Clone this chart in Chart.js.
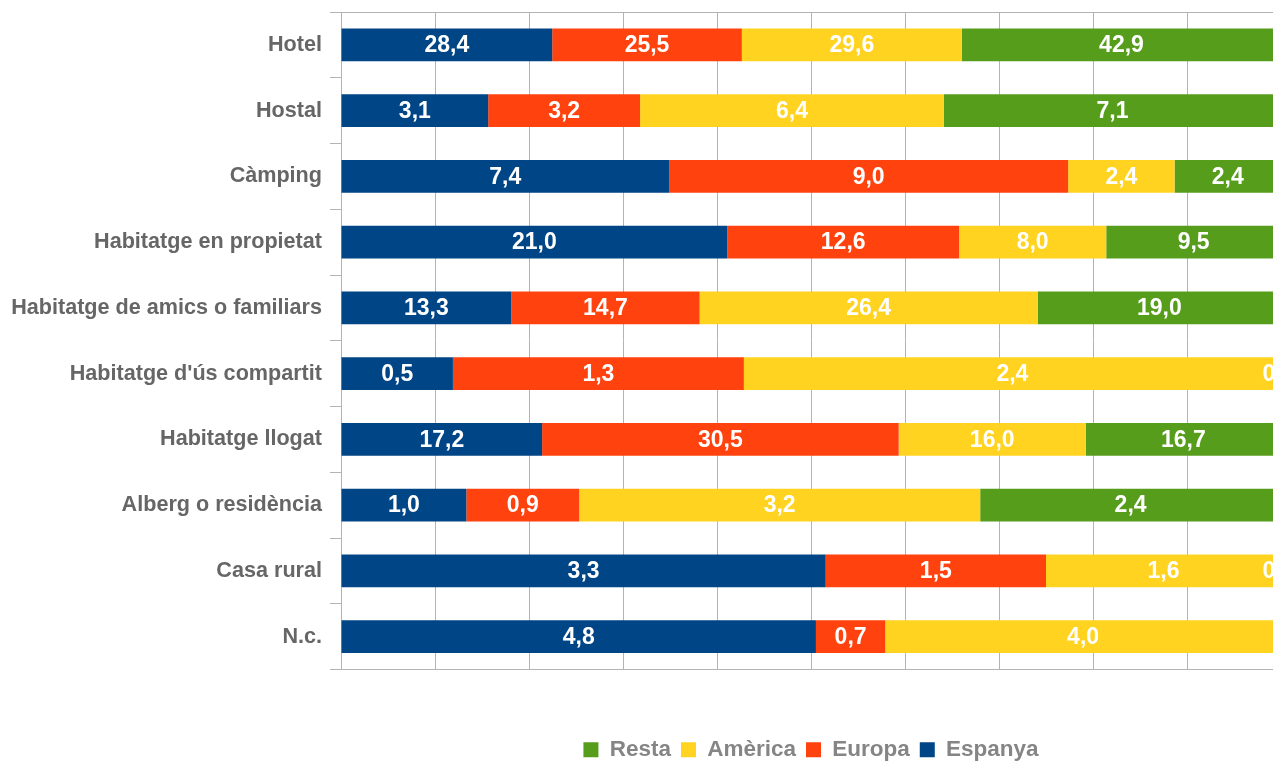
<!DOCTYPE html>
<html lang="ca">
<head>
    <meta charset="UTF-8">
    <title>Allotjament per procedència</title>
    <script src="https://cdn.jsdelivr.net/npm/chart.js"></script>
    <style>
        body {
            margin: 0;
            padding: 0;
            background: #fff;
            overflow: hidden;
        }
        #wrap {
            width: 1281px;
            height: 771px;
        }
    </style>
</head>
<body>
    <div id="wrap">
        <canvas id="chart" width="1281" height="771"></canvas>
    </div>
    <script>
        // categories (top to bottom)
        const categories = [
            'Hotel', 'Hostal', 'Càmping', 'Habitatge en propietat',
            'Habitatge de amics o familiars', "Habitatge d'ús compartit",
            'Habitatge llogat', 'Alberg o residència', 'Casa rural', 'N.c.'
        ];

        // raw values shown in the bars
        const espanya = [28.4, 3.1, 7.4, 21.0, 13.3, 0.5, 17.2, 1.0, 3.3, 4.8];
        const europa  = [25.5, 3.2, 9.0, 12.6, 14.7, 1.3, 30.5, 0.9, 1.5, 0.7];
        const america = [29.6, 6.4, 2.4, 8.0, 26.4, 2.4, 16.0, 3.2, 1.6, 4.0];
        const resta   = [42.9, 7.1, 2.4, 9.5, 19.0, 0, 16.7, 2.4, 0, null];

        const xTicks = [0, 10, 20, 30, 40, 50, 60, 70, 80, 90, 100];

        const series = [
            { label: 'Espanya', values: espanya, color: '#004586' },
            { label: 'Europa', values: europa, color: '#ff420e' },
            { label: 'Amèrica', values: america, color: '#ffd320' },
            { label: 'Resta', values: resta, color: '#579d1c' }
        ];

        // each row is stacked to 100 %
        const rowTotals = categories.map((c, i) =>
            series.reduce((s, d) => s + (d.values[i] || 0), 0));

        function toShare(values) {
            return values.map((v, i) => v === null ? null : v / rowTotals[i] * 100);
        }

        function fmt(v) {
            if (v === 0) return '0';
            return v.toFixed(1).replace('.', ',');
        }

        const gridColor = '#b3b3b3';
        const fontFamily = '"Liberation Sans", Arial, sans-serif';

        const barLabels = {
            id: 'barLabels',
            afterDatasetsDraw(chart) {
                const ctx = chart.ctx;
                const area = chart.chartArea;
                ctx.save();
                ctx.font = 'bold 23px ' + fontFamily;
                ctx.fillStyle = '#ffffff';
                ctx.textAlign = 'center';
                ctx.textBaseline = 'middle';
                chart.data.datasets.forEach((ds, di) => {
                    const meta = chart.getDatasetMeta(di);
                    meta.data.forEach((bar, i) => {
                        const v = series[di].values[i];
                        if (v === null || v === undefined) return;
                        let x = (bar.x + bar.base) / 2;
                        x = Math.min(x, area.right - 12);
                        ctx.fillText(fmt(v), x, bar.y + 1);
                    });
                });
                ctx.restore();
            }
        };

        new Chart(document.getElementById('chart'), {
            type: 'bar',
            data: {
                labels: categories,
                datasets: series.map(s => ({
                    label: s.label,
                    data: toShare(s.values),
                    backgroundColor: s.color,
                    borderWidth: 0,
                    barPercentage: 1,
                    categoryPercentage: 0.5
                }))
            },
            options: {
                indexAxis: 'y',
                responsive: false,
                animation: false,
                layout: {
                    padding: { top: 12, left: 0, right: 0, bottom: 0 }
                },
                plugins: {
                    tooltip: { enabled: false },
                    legend: {
                        position: 'bottom',
                        reverse: true,
                        fullSize: false,
                        labels: {
                            boxWidth: 15,
                            boxHeight: 15,
                            padding: 10,
                            color: '#858585',
                            font: { family: fontFamily, size: 22.5, weight: 'bold' }
                        }
                    }
                },
                scales: {
                    x: {
                        stacked: true,
                        min: 0,
                        max: 100,
                        afterBuildTicks: scale => {
                            scale.ticks = xTicks.map(v => ({ value: v }));
                        },
                        afterFit: scale => { scale.height = 59; },
                        ticks: { display: false },
                        grid: {
                            color: gridColor,
                            drawTicks: false
                        },
                        border: { display: true, color: gridColor }
                    },
                    y: {
                        stacked: true,
                        afterFit: scale => {
                            scale.width = 341;
                            scale.paddingTop = 0;
                            scale.paddingBottom = 0;
                        },
                        ticks: {
                            color: '#666666',
                            padding: 8,
                            font: { family: fontFamily, size: 21.6, weight: 'bold' }
                        },
                        grid: {
                            offset: true,
                            tickLength: 11,
                            tickColor: gridColor,
                            color: ctx => (ctx.index === 0 || ctx.index === undefined) ? gridColor : 'rgba(0,0,0,0)'
                        },
                        border: { display: true, color: gridColor }
                    }
                }
            },
            plugins: [barLabels]
        });
    </script>
</body>
</html>
